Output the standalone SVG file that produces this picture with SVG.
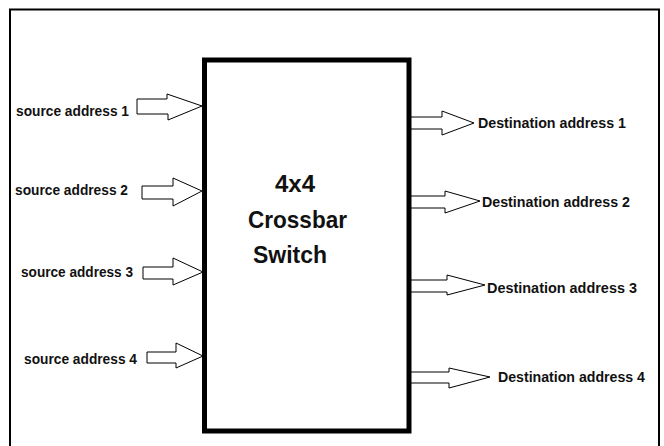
<svg xmlns="http://www.w3.org/2000/svg" width="664" height="446" viewBox="0 0 664 446">
<style>
.frame{fill:none;stroke:#000;stroke-width:2}
.box{fill:#fff;stroke:#000;stroke-width:5}
.arrow{fill:#fff;stroke:#000;stroke-width:1}
.lbl{font-family:"Liberation Sans",Arial,sans-serif;font-weight:bold;font-size:15px;fill:#111}
.title{font-family:"Liberation Sans",Arial,sans-serif;font-weight:bold;font-size:24px;fill:#111}
</style>
<rect width="664" height="446" fill="#fff"/>
<path class="frame" d="M10,447 V9.5 H659 V447"/>
<g id="connectors">
<polygon class="arrow" points="137,99 167,99 167,94 202,106 168,120 168,114 137,114"/>
<polygon class="arrow" points="142,186 173,186 173,178 202,191 173,206 173,199 142,199"/>
<polygon class="arrow" points="143,267 173,267 173,258 203,272 173,285 173,279 143,279"/>
<polygon class="arrow" points="147,352 176,352 176,343 203,356 176,368 176,363 147,363"/>
<polygon class="arrow" points="410,117 442,117 442,111 474,123 442,135 442,129 410,129"/>
<polygon class="arrow" points="410,196 445,196 445,191 480,201 445,213 445,208 410,208"/>
<polygon class="arrow" points="410,280 447,280 447,275 485,285 447,295 447,292 410,292"/>
<polygon class="arrow" points="410,372 449,372 449,368 490,377 449,388 449,383 410,383"/>
</g>
<g id="switch">
<rect class="box" x="204.5" y="60" width="204.5" height="371"/>
<text class="title" x="275" y="192" textLength="40" lengthAdjust="spacingAndGlyphs">4x4</text>
<text class="title" x="248" y="228" textLength="99" lengthAdjust="spacingAndGlyphs">Crossbar</text>
<text class="title" x="253" y="263" textLength="74" lengthAdjust="spacingAndGlyphs">Switch</text>
</g>
<g id="src1"><text class="lbl" x="16" y="116" textLength="113" lengthAdjust="spacingAndGlyphs">source address 1</text></g>
<g id="src2"><text class="lbl" x="15" y="195" textLength="113" lengthAdjust="spacingAndGlyphs">source address 2</text></g>
<g id="src3"><text class="lbl" x="21" y="277" textLength="112" lengthAdjust="spacingAndGlyphs">source address 3</text></g>
<g id="src4"><text class="lbl" x="24" y="364" textLength="113" lengthAdjust="spacingAndGlyphs">source address 4</text></g>
<g id="dst1"><text class="lbl" x="478" y="128" textLength="148" lengthAdjust="spacingAndGlyphs">Destination address 1</text></g>
<g id="dst2"><text class="lbl" x="482" y="207" textLength="148" lengthAdjust="spacingAndGlyphs">Destination address 2</text></g>
<g id="dst3"><text class="lbl" x="487" y="293" textLength="150" lengthAdjust="spacingAndGlyphs">Destination address 3</text></g>
<g id="dst4"><text class="lbl" x="498" y="382" textLength="147" lengthAdjust="spacingAndGlyphs">Destination address 4</text></g>
</svg>
